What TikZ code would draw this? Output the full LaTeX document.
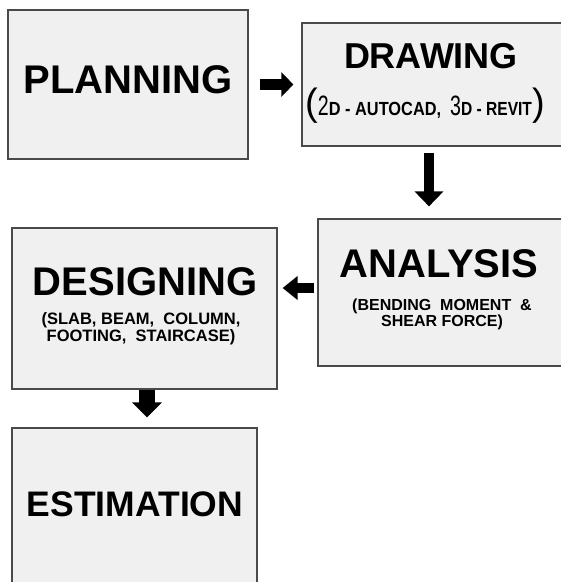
\documentclass[tikz,border=0pt]{standalone}
\usepackage{fontspec}
\usepackage{graphicx}
\setmainfont{Liberation Sans}
\usetikzlibrary{arrows.meta}
\definecolor{boxfill}{HTML}{F0F0F0}
\definecolor{boxline}{HTML}{4A4A4A}
\tikzset{
  box/.style={draw=boxline, fill=boxfill, line width=1.2pt, inner sep=0pt},
  title/.style={anchor=base, inner sep=0pt, font=\fontsize{40}{40}\selectfont\bfseries},
  sub/.style={anchor=base, inner sep=0pt, align=center},
  barrow/.style={draw=black, line width=#1},
}
\begin{document}
\begin{tikzpicture}[x=1pt, y=-1pt]
\useasboundingbox (0,0) rectangle (561,582);
\clip (0,0) rectangle (561,582);
% boxes
\node[box, minimum width=240pt, minimum height=149pt] (plan) at (128,84.5) {};
\node[box, minimum width=262pt, minimum height=123pt] (drw) at (433,84.5) {};
\node[box, minimum width=246pt, minimum height=147pt] (ana) at (441,292.5) {};
\node[box, minimum width=265pt, minimum height=161pt] (des) at (144.5,308.5) {};
\node[box, minimum width=245pt, minimum height=172pt] (est) at (134.5,514) {};
% texts
\node[title] (tplan) at (128,93) {PLANNING};
\node[title, font=\fontsize{36}{36}\selectfont\bfseries] (tdrw) at (431,68) {DRAWING};
\node[sub] (sdrw) at (425,115) {{\fontsize{38}{38}\selectfont(}\scalebox{0.7}[1]{\fontsize{28}{28}\selectfont 2}\scalebox{0.86}[1]{\fontsize{19}{19}\selectfont\bfseries D - AUTOCAD,}\hspace{9pt}\scalebox{0.7}[1]{\fontsize{28}{28}\selectfont 3}\scalebox{0.82}[1]{\fontsize{19}{19}\selectfont\bfseries D - REVIT}{\fontsize{38}{38}\selectfont)}};
\node[title] (tana) at (439,277) {ANALYSIS};
\node[sub, font=\fontsize{16}{13.5}\selectfont\bfseries] (sana) at (442,326.5) {(BENDING\ \ MOMENT\ \ \&\\SHEAR FORCE)};
\node[title] (tdes) at (145,295) {DESIGNING};
\node[sub, font=\fontsize{16.5}{14}\selectfont\bfseries] (sdes) at (141,341) {(SLAB, BEAM,\ \ COLUMN,\\FOOTING,\ \ STAIRCASE)};
\node[title, font=\fontsize{35.5}{35.5}\selectfont\bfseries] (test) at (135,516) {ESTIMATION};
% arrows
\draw[barrow=11pt, -{Triangle[width=24pt,length=12pt]}, shorten <=11pt, shorten >=8pt]
  (plan.east) -- (plan.east -| drw.west);
\draw[barrow=10pt, -{Triangle[width=28pt,length=15pt]}, shorten <=6pt, shorten >=12pt]
  ([xshift=-4pt]drw.south) -- ([xshift=-4pt]drw.south |- ana.north);
\draw[barrow=10pt, -{Triangle[width=23pt,length=15pt]}, shorten <=3pt, shorten >=5pt]
  ([yshift=4.5pt]ana.west) -- ([yshift=4.5pt]ana.west -| des.east);
\draw[barrow=16pt, -{Triangle[width=29pt,length=15pt]}, shorten <=0pt, shorten >=10pt]
  ([xshift=2.5pt]des.south) -- ([xshift=2.5pt]des.south |- est.north);
\end{tikzpicture}
\end{document}
